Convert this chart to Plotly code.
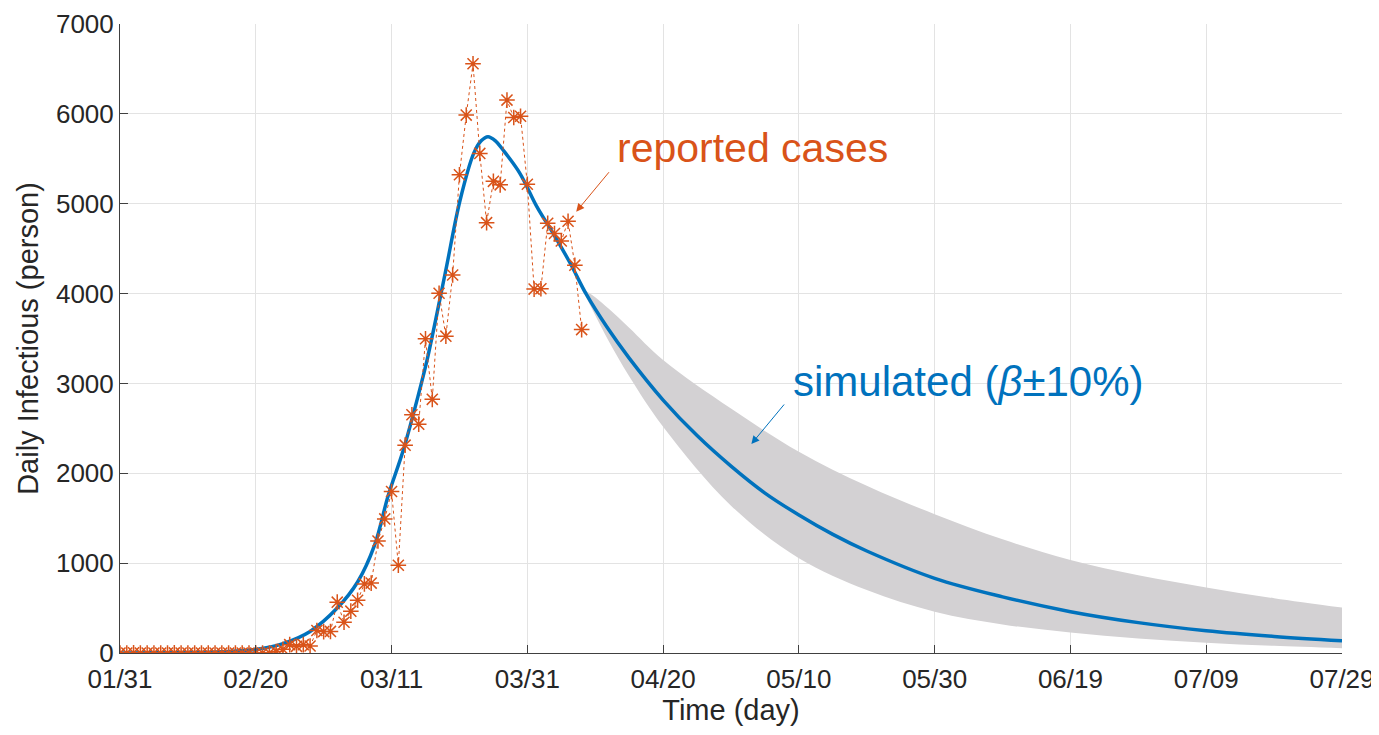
import plotly.graph_objects as go

# ---------------- data ----------------
tick_days = [0, 20, 40, 60, 80, 100, 120, 140, 160, 180]
tick_labels = ["01/31", "02/20", "03/11", "03/31", "04/20", "05/10", "05/30", "06/19", "07/09", "07/29"]
y_ticks = [0, 1000, 2000, 3000, 4000, 5000, 6000, 7000]

report_days = list(range(0, 69))
report_cases = [0, 0, 2, 0, 0, 0, 0, 0, 1, 0,
                0, 0, 0, 0, 0, 0, 0, 0, 0, 0,
                0, 0, 0, 17, 42, 93, 74, 93, 78, 250,
                238, 240, 566, 342, 466, 587, 769, 778, 1247, 1492,
                1797, 977, 2313, 2651, 2547, 3497, 2823, 4003, 3526, 4207,
                5322, 5986, 6557, 5560, 4789, 5249, 5210, 6153, 5959, 5974,
                5217, 4050, 4053, 4782, 4668, 4585, 4805, 4316, 3599]

sim_days = [0, 5, 10, 15, 20, 24, 28, 32, 35, 37.5, 39.5, 41.7, 43.7, 45.2, 47.9,
            50.1, 52.1, 53.2, 54.2, 55.3, 56.4, 58.9, 61.4, 63.8, 66.3, 68.7, 71.7, 75, 80, 85,
            90, 95, 100, 105, 110, 120, 130, 140, 150, 160, 170, 180]
sim_values = [1, 3, 6, 15, 40, 105, 240, 500, 790, 1200, 1750, 2250, 2800, 3250, 4226,
              5041, 5560, 5700, 5746, 5700, 5600, 5338, 4967, 4670, 4340, 3990, 3630, 3282, 2815, 2420,
              2080, 1780, 1536, 1320, 1135, 831, 625, 460, 338, 248, 185, 137]

band_days = [68, 70, 72, 75, 80, 90, 100, 110, 120, 130, 140, 150, 160, 170, 180]
band_upper = [4060, 3960, 3830, 3620, 3260, 2720, 2240, 1860, 1545, 1265, 1035, 865, 730, 610, 505]
band_lower = [4060, 3760, 3470, 3080, 2519, 1640, 1054, 700, 460, 318, 228, 162, 115, 80, 54]

# ---------------- styles ----------------
BLUE = "#0072BD"
ORANGE = "#D95319"
GRAY_FILL = "rgb(211,209,211)"
FONT = "Liberation Sans, Arial, sans-serif"

fig = go.Figure()

fig.add_trace(go.Scatter(x=band_days, y=band_upper, mode="lines",
                         line=dict(width=0, color=GRAY_FILL, shape="spline", smoothing=1.0),
                         showlegend=False, hoverinfo="skip"))
fig.add_trace(go.Scatter(x=band_days, y=band_lower, mode="lines",
                         line=dict(width=0, color=GRAY_FILL, shape="spline", smoothing=1.0),
                         fill="tonexty", fillcolor=GRAY_FILL, showlegend=False,
                         hoverinfo="skip"))

fig.add_trace(go.Scatter(x=sim_days, y=sim_values, mode="lines",
                         line=dict(color=BLUE, width=3.5, shape="spline", smoothing=1.0),
                         showlegend=False))

fig.add_trace(go.Scatter(x=report_days, y=report_cases, mode="lines+markers",
                         line=dict(color=ORANGE, width=1, dash="dot"),
                         marker=dict(symbol="asterisk-open", size=13,
                                     line=dict(color=ORANGE, width=1.5)),
                         showlegend=False))

# annotations (arrows + texts)
fig.add_annotation(x=67.2, y=4911, ax=34, ay=-41, xref="x", yref="y",
                   text="", showarrow=True, arrowhead=2, arrowsize=1.6,
                   arrowwidth=1, arrowcolor=ORANGE)
fig.add_annotation(x=93.1, y=5620, text="reported cases", showarrow=False,
                   font=dict(family=FONT, size=41, color=ORANGE),
                   xanchor="center", yanchor="middle")
fig.add_annotation(x=93.0, y=2326, ax=34, ay=-41, xref="x", yref="y",
                   text="", showarrow=True, arrowhead=2, arrowsize=1.6,
                   arrowwidth=1, arrowcolor=BLUE)
fig.add_annotation(x=125.0, y=3027, text="simulated (<i>β</i>±10%)", showarrow=False,
                   font=dict(family=FONT, size=42, color=BLUE),
                   xanchor="center", yanchor="middle")

axis_common = dict(
    showgrid=True, gridcolor="#e3e3e3", gridwidth=1,
    showline=True, linecolor="#404040", linewidth=1,
    ticks="inside", ticklen=8, tickcolor="#404040",
    tickfont=dict(family=FONT, size=26, color="#262626"),
    zeroline=False, mirror=False, automargin=False,
)

fig.update_xaxes(range=[0, 180], tickvals=tick_days, ticktext=tick_labels,
                 ticklabelstandoff=3,
                 title=dict(text="Time (day)", font=dict(family=FONT, size=29, color="#262626"),
                            standoff=2),
                 **axis_common)
fig.update_yaxes(range=[0, 7000], tickvals=y_ticks,
                 title=dict(text="Daily Infectious (person)",
                            font=dict(family=FONT, size=29, color="#262626"), standoff=8),
                 **axis_common)

# page body has an 8px margin, so the figure is sized to fit the window
fig.update_layout(width=1371, height=727,
                  margin=dict(l=112, r=37, t=16, b=82),
                  paper_bgcolor="white", plot_bgcolor="white",
                  showlegend=False)

fig.write_html("out.html")
